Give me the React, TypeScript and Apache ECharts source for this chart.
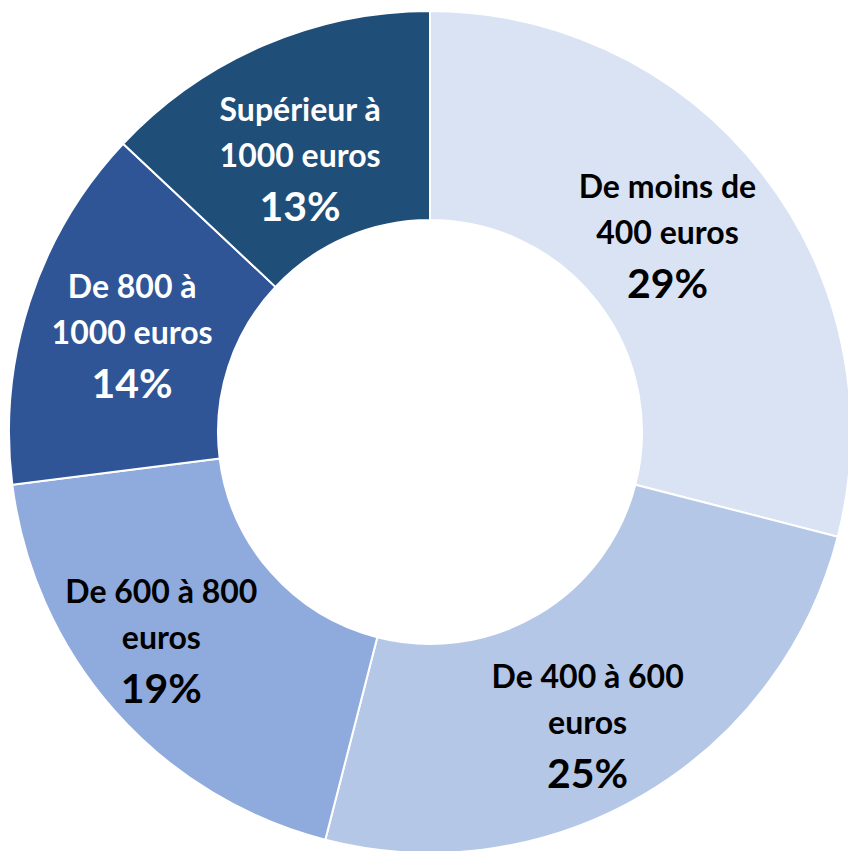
import React, { useEffect, useRef } from "react";
import * as echarts from "echarts";

const categories = [
  "De moins de\n400 euros",
  "De 400 à 600\neuros",
  "De 600 à 800\neuros",
  "De 800 à\n1000 euros",
  "Supérieur à\n1000 euros",
];
const values = [29, 25, 19, 14, 13];
const colors = ["#DAE3F3", "#B4C7E7", "#8FAADC", "#2F5597", "#1F4E79"];
const textColors = ["#000000", "#000000", "#000000", "#FFFFFF", "#FFFFFF"];
const labelOffsets = [
  [-15, 0],
  [-5, 19],
  [-29, -2],
  [6, 3],
  [-3, 21],
];

export default function App() {
  const ref = useRef<HTMLDivElement>(null);
  useEffect(() => {
    if (!ref.current) return;
    const chart = echarts.init(ref.current, null, { renderer: "svg" });
    chart.setOption({
      animation: false,
      backgroundColor: "#FFFFFF",
      series: [
        {
          type: "pie",
          center: [430, 432],
          radius: [212, 421],
          startAngle: 90,
          clockwise: true,
          avoidLabelOverlap: false,
          itemStyle: { borderColor: "#FFFFFF", borderWidth: 2 },
          label: {
            show: true,
            position: "inside",
            fontFamily: "Lato",
            fontWeight: "bold",
            formatter: (p: any) =>
              p.name
                .split("\n")
                .map((l: string) => `{n|${l}}`)
                .join("\n") + `\n{p|${p.value}%}`,
            rich: {
              n: { fontSize: 32, fontWeight: "bold", fontFamily: "Lato", lineHeight: 46 },
              p: { fontSize: 41, fontWeight: "bold", fontFamily: "Lato", lineHeight: 56 },
            },
          },
          labelLine: { show: false },
          data: values.map((v, i) => ({
            name: categories[i],
            value: v,
            itemStyle: { color: colors[i] },
            label: {
              color: textColors[i],
              offset: labelOffsets[i],
              rich: {
                n: { color: textColors[i] },
                p: { color: textColors[i] },
              },
            },
          })),
        },
      ],
    });
    return () => chart.dispose();
  }, []);
  return (
    <div
      ref={ref}
      style={{ position: "fixed", left: 0, top: 0, width: 848, height: 851 }}
    />
  );
}
